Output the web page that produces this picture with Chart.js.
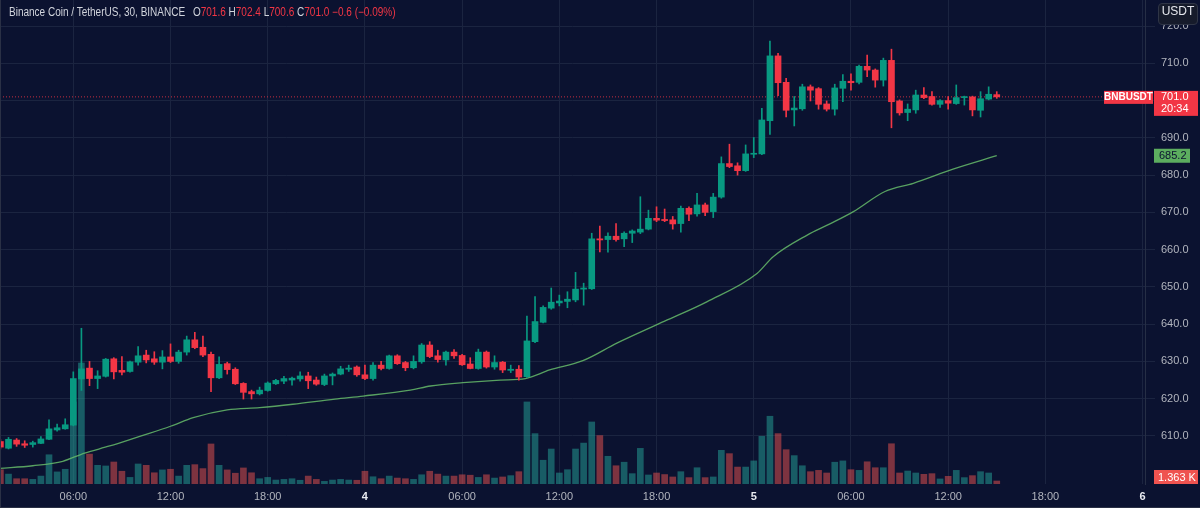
<!DOCTYPE html>
<html>
<head>
<meta charset="utf-8">
<script src="https://cdn.jsdelivr.net/npm/chart.js@4.4.1/dist/chart.umd.min.js"></script>
<style>
  html, body { margin: 0; padding: 0; background: #0b1230; }
  #wrap { position: relative; width: 1200px; height: 508px; }
  #header { position: absolute; left: 9px; top: 5px; font: 12px "Liberation Sans", sans-serif; color: #d1d4dc; white-space: nowrap;
            transform: scaleX(0.834); transform-origin: left top; }
  #header .v { color: #f23645; }
  #header .g { margin-left: 6px; }
  #unit { position: absolute; left: 1158px; top: 3px; width: 38px; height: 20px; line-height: 20px; text-align: center;
          background: #161b2b; border: 1px solid #2f3546; border-radius: 4px; color: #e6e8ee; font: 12px "Liberation Sans", sans-serif; }
</style>
</head>
<body>
<div id="wrap">
  <canvas id="chart" width="1200" height="508"></canvas>
  <div id="header">Binance Coin / TetherUS, 30, BINANCE <span class="g">O<span class="v">701.6</span></span> <span>H<span class="v">702.4</span></span> <span>L<span class="v">700.6</span></span> <span>C<span class="v">701.0</span></span> <span class="v">&minus;0.6 (&minus;0.09%)</span></div>
  <div id="unit">USDT</div>
</div>
<script>
// slot = half hours since Dec 3 00:00, first candle at 01:30
const firstSlot = 3;

const opens = [
  608.5, 606.7, 608.9, 607.9, 607.7, 608.0, 609.1, 611.6, 611.9, 612.9,
  625.3, 628.2, 625.4, 626.0, 630.7, 627.6, 627.3, 629.8, 631.7, 630.7,
  629.8, 631.2, 630.0, 632.5, 635.8, 633.8, 631.9, 625.6, 629.4, 627.9,
  624.1, 621.9, 621.3, 622.2, 624.0, 624.7, 625.0, 625.3, 626.1, 625.0,
  623.8, 626.1, 626.6, 627.9, 628.5, 626.4, 625.4, 629.0, 628.1, 631.5,
  629.7, 628.3, 629.9, 634.4, 631.5, 630.4, 632.5, 631.6, 629.3, 628.1,
  632.5, 628.5, 629.8, 627.6, 627.9, 625.9, 635.3, 640.5, 644.3, 645.7,
  646.1, 646.5, 649.4, 649.5, 662.9, 662.7, 663.6, 662.9, 664.4, 664.7,
  665.5, 668.4, 668.1, 668.0, 667.0, 671.1, 669.6, 672.0, 670.2, 674.1,
  683.1, 682.5, 681.2, 685.6, 685.7, 694.6, 712.0, 704.9, 697.5, 697.8,
  703.7, 703.2, 699.1, 697.7, 703.3, 705.2, 704.9, 709.2, 708.2, 705.5,
  710.8, 699.9, 696.8, 697.5, 701.5, 701.1, 699.0, 700.0, 699.2, 700.8,
  701.0, 697.4, 700.4, 701.6
];
const highs = [
  609.0, 609.6, 609.3, 608.7, 608.6, 609.8, 614.3, 613.2, 614.6, 627.2,
  638.9, 630.0, 627.5, 630.8, 631.0, 631.3, 630.1, 634.0, 633.0, 632.6,
  632.9, 634.7, 633.0, 636.8, 637.8, 636.8, 632.5, 631.2, 629.8, 628.3,
  624.3, 622.3, 623.1, 624.5, 625.2, 626.0, 625.8, 627.2, 627.1, 625.8,
  626.6, 626.9, 628.7, 629.0, 628.8, 629.0, 629.7, 630.0, 631.7, 631.8,
  630.0, 631.5, 634.8, 635.3, 633.0, 632.8, 633.2, 631.9, 631.0, 633.3,
  632.8, 631.5, 630.0, 629.0, 628.9, 642.2, 647.4, 644.9, 649.7, 647.8,
  648.7, 653.9, 651.0, 664.4, 666.3, 664.5, 667.0, 664.8, 665.3, 674.2,
  670.6, 671.5, 670.9, 668.9, 671.7, 671.5, 675.1, 672.5, 675.1, 684.9,
  688.3, 683.3, 688.1, 690.1, 697.9, 716.0, 712.7, 706.0, 701.1, 704.4,
  704.2, 703.5, 699.9, 704.4, 707.0, 707.2, 709.5, 712.2, 708.5, 711.4,
  713.8, 700.2, 699.1, 702.8, 703.5, 702.4, 700.3, 701.1, 704.2, 701.2,
  701.2, 702.4, 703.7, 702.4
];
const lows = [
  606.5, 606.5, 607.2, 606.9, 607.0, 607.9, 609.0, 611.3, 611.8, 612.7,
  622.2, 623.5, 622.7, 625.8, 625.3, 626.4, 627.1, 629.0, 629.6, 629.2,
  628.0, 629.7, 629.5, 631.7, 633.4, 631.3, 621.9, 625.4, 626.6, 623.8,
  619.9, 619.9, 621.0, 622.0, 623.8, 624.0, 623.6, 624.7, 622.7, 623.6,
  623.5, 623.7, 626.4, 627.3, 626.0, 625.1, 625.0, 627.7, 627.9, 629.2,
  627.5, 628.0, 629.5, 631.0, 629.8, 629.0, 630.8, 628.9, 628.0, 627.9,
  628.2, 627.9, 627.0, 627.0, 625.0, 625.7, 635.0, 640.3, 644.0, 644.9,
  644.4, 646.0, 645.1, 649.3, 659.4, 659.3, 662.3, 660.8, 661.9, 664.3,
  665.3, 667.5, 667.5, 665.5, 664.7, 667.8, 669.0, 669.1, 668.6, 673.8,
  682.0, 680.0, 681.0, 684.7, 685.5, 690.9, 701.3, 695.6, 693.2, 697.4,
  699.9, 697.7, 697.2, 696.1, 699.7, 702.8, 704.5, 706.4, 703.6, 703.9,
  692.7, 696.1, 694.6, 696.6, 700.5, 698.8, 698.2, 697.7, 699.0, 698.8,
  695.9, 695.6, 700.2, 700.6
];
const closes = [
  607.0, 609.1, 607.8, 607.5, 608.2, 609.2, 611.9, 612.2, 613.0, 625.4,
  628.0, 625.4, 626.1, 630.6, 627.2, 627.1, 629.9, 631.5, 630.4, 629.8,
  631.2, 630.0, 632.5, 635.8, 633.7, 631.7, 625.6, 629.2, 627.8, 624.0,
  621.7, 621.3, 622.3, 624.2, 624.9, 625.4, 625.5, 626.1, 624.8, 623.9,
  626.1, 626.6, 628.0, 628.2, 626.4, 625.4, 629.0, 628.1, 631.5, 629.4,
  628.3, 630.0, 634.4, 631.3, 630.5, 632.5, 631.5, 629.1, 628.1, 632.5,
  628.5, 629.7, 627.7, 627.9, 625.8, 635.5, 640.7, 644.5, 645.9, 646.2,
  646.7, 649.4, 649.7, 662.9, 662.6, 663.6, 662.7, 664.4, 665.0, 665.5,
  668.4, 667.9, 667.8, 666.9, 671.1, 669.5, 672.0, 670.0, 674.1, 683.1,
  682.3, 681.2, 685.7, 685.8, 694.8, 712.0, 704.8, 697.4, 698.0, 703.7,
  702.8, 699.0, 697.7, 703.4, 705.2, 704.8, 709.2, 708.2, 705.5, 710.8,
  699.7, 696.7, 697.7, 701.5, 700.8, 699.0, 700.0, 699.3, 700.8, 701.0,
  697.5, 700.5, 701.7, 701.0
];
// volume in thousands of BNB
const volumes = [
  6.5, 4.5, 2.4, 2.4, 2.1, 3.6, 13.3, 5.5, 6.7, 37.3,
  55.0, 13.6, 8.5, 8.2, 10.0, 5.8, 3.0, 9.1, 8.5, 5.1,
  6.4, 6.7, 3.6, 8.5, 8.8, 7.0, 18.2, 8.5, 6.4, 4.9,
  7.3, 5.1, 2.4, 3.0, 1.8, 2.1, 2.4, 1.7, 3.6, 2.1,
  1.2, 1.8, 2.1, 1.8, 1.7, 5.8, 3.3, 2.4, 3.6, 2.7,
  2.4, 2.1, 4.2, 5.8, 4.5, 3.6, 3.6, 4.2, 4.0, 3.0,
  4.2, 2.7, 3.2, 3.8, 5.6, 37.3, 22.9, 10.8, 15.9, 5.0,
  6.5, 15.9, 18.6, 28.2, 22.0, 12.6, 8.3, 9.9, 4.7, 16.2,
  4.1, 5.0, 4.3, 3.2, 5.6, 2.9, 7.4, 2.9, 3.2, 15.3,
  13.8, 7.7, 7.7, 10.5, 21.7, 30.8, 22.9, 15.6, 12.9, 8.3,
  5.6, 6.2, 5.0, 9.9, 10.5, 6.5, 6.2, 10.1, 7.4, 7.4,
  18.3, 5.0, 5.9, 5.0, 4.4, 4.7, 2.3, 3.5, 6.2, 2.9,
  3.8, 5.6, 5.0, 1.363
];
// moving average, read at a few slots
const maSlots  = [2.9, 7, 10.7, 13.4, 16.5, 20.2, 24, 26.8, 31, 35, 39.1, 44.3, 47.8, 53.6, 56.1, 60.1, 64.7, 67.8, 70.8, 74.9, 79.1, 85, 90.2, 96.4, 98.4, 102.6, 105.4, 108.3, 112.2, 115.7, 120.6, 126];
const maValues = [601.3, 602.0, 603.2, 605.4, 607.3, 609.9, 612.6, 614.9, 617.0, 617.6, 618.5, 619.9, 620.7, 622.3, 623.4, 624.3, 625.0, 625.4, 627.7, 630.2, 634.9, 640.8, 646.0, 653.6, 658.1, 663.9, 666.9, 670.2, 675.6, 677.8, 681.6, 685.2];

const tickSlots  = [12, 24, 36, 48, 60, 72, 84, 96, 108, 120, 132, 144];
const tickLabels = ['06:00', '12:00', '18:00', '4', '06:00', '12:00', '18:00', '5', '06:00', '12:00', '18:00', '6'];
const priceTicks = [610, 620, 630, 640, 650, 660, 670, 680, 690, 700, 710, 720];

const UP = '#089981', DOWN = '#f23645';
const UP_VOL = 'rgba(38,166,154,0.5)', DOWN_VOL = 'rgba(239,83,80,0.5)';
const GRID = '#1b2440';

const slots = opens.map((_, i) => firstSlot + i);
const isUp = opens.map((o, i) => closes[i] >= o);
const candleColors = isUp.map(u => u ? UP : DOWN);
const lastClose = closes[closes.length - 1];
const xMin = 2.95, xMax = 144.3;

const labelsPlugin = {
  id: 'labels',
  beforeDraw(chart) {
    const { ctx } = chart;
    ctx.save();
    ctx.fillStyle = '#0b1230';
    ctx.fillRect(0, 0, chart.width, chart.height);
    ctx.restore();
  },
  afterDraw(chart) {
    const { ctx, scales } = chart;
    ctx.save();
    // frame
    ctx.strokeStyle = '#2a3045';
    ctx.lineWidth = 1;
    ctx.beginPath();
    ctx.moveTo(0.5, 0); ctx.lineTo(0.5, 508);
    ctx.moveTo(0, 507.5); ctx.lineTo(1200, 507.5);
    ctx.stroke();

    ctx.textBaseline = 'middle';
    // last price tag
    const py = scales.y.getPixelForValue(lastClose);
    ctx.fillStyle = DOWN;
    ctx.fillRect(1104, py - 6, 49, 13);
    ctx.fillRect(1154, py - 6, 44, 25);
    ctx.fillStyle = '#ffffff';
    ctx.font = 'bold 10px "Liberation Sans", sans-serif';
    ctx.textAlign = 'center';
    ctx.fillText('BNBUSDT', 1128.5, py + 0.5);
    ctx.font = '11px "Liberation Sans", sans-serif';
    ctx.textAlign = 'left';
    ctx.fillText(lastClose.toFixed(1), 1161, py + 0.5);
    ctx.fillText('20:34', 1161, py + 12.5);

    // moving average tag
    const maLast = maValues[maValues.length - 1];
    const my = scales.y.getPixelForValue(maLast);
    ctx.fillStyle = '#5cad5f';
    ctx.fillRect(1154, my - 7, 36, 14);
    ctx.fillStyle = '#0b1230';
    ctx.fillText(maLast.toFixed(1), 1159, my + 0.5);

    // volume tag
    const vLast = volumes[volumes.length - 1];
    const vy = Math.min(scales.vol.getPixelForValue(vLast), chart.chartArea.bottom - 7);
    ctx.fillStyle = '#ef5350';
    ctx.fillRect(1154, vy - 7, 44, 14);
    ctx.fillStyle = '#ffffff';
    ctx.fillText(vLast.toFixed(3) + ' K', 1158, vy + 0.5);
    ctx.restore();
  }
};

new Chart(document.getElementById('chart'), {
  data: {
    datasets: [
      {
        type: 'bar',
        label: 'Bodies',
        data: slots.map((s, i) => ({ x: s, y: [opens[i], closes[i]] })),
        backgroundColor: candleColors,
        barThickness: 6,
        minBarLength: 1,
        grouped: false,
        yAxisID: 'y',
        order: 0
      },
      {
        type: 'bar',
        label: 'Wicks',
        data: slots.map((s, i) => ({ x: s, y: [lows[i], highs[i]] })),
        backgroundColor: candleColors,
        barThickness: 1,
        grouped: false,
        yAxisID: 'y',
        order: 1
      },
      {
        type: 'line',
        label: 'MA',
        data: maSlots.map((s, i) => ({ x: s, y: maValues[i] })),
        borderColor: 'rgba(102,187,106,0.85)',
        borderWidth: 1.3,
        pointRadius: 0,
        cubicInterpolationMode: 'monotone',
        yAxisID: 'y',
        order: 2
      },
      {
        type: 'line',
        label: 'Last',
        data: [{ x: xMin, y: lastClose }, { x: xMax, y: lastClose }],
        borderColor: 'rgba(242,54,69,0.8)',
        borderWidth: 1,
        borderDash: [1, 2],
        pointRadius: 0,
        yAxisID: 'y',
        order: 3
      },
      {
        type: 'bar',
        label: 'Volume',
        data: slots.map((s, i) => ({ x: s, y: volumes[i] })),
        backgroundColor: isUp.map(u => u ? UP_VOL : DOWN_VOL),
        barThickness: 6,
        grouped: false,
        yAxisID: 'vol',
        order: 4
      }
    ]
  },
  options: {
    responsive: false,
    animation: false,
    layout: { padding: 0 },
    plugins: { legend: { display: false }, tooltip: { enabled: false } },
    scales: {
      x: {
        type: 'linear',
        min: xMin,
        max: xMax,
        offset: false,
        afterBuildTicks: s => { s.ticks = tickSlots.map(v => ({ value: v })); },
        afterFit: s => { s.height = 24; s.paddingLeft = 0; s.paddingRight = 0; },
        grid: { color: GRID, drawTicks: false, offset: false },
        border: { display: false },
        ticks: {
          autoSkip: false,
          maxRotation: 0,
          padding: 6,
          callback: (v, i) => tickLabels[i],
          color: c => (tickLabels[c.index] || '').length < 3 ? '#e8eaf0' : '#b2b5be',
          font: c => ({ family: '"Liberation Sans", sans-serif', size: 11, weight: (tickLabels[c.index] || '').length < 3 ? 'bold' : 'normal' })
        }
      },
      y: {
        type: 'linear',
        position: 'right',
        min: 597.1,
        max: 727.0,
        afterBuildTicks: s => { s.ticks = priceTicks.map(v => ({ value: v })); },
        afterFit: s => { s.width = 55; s.paddingTop = 0; s.paddingBottom = 0; },
        grid: { color: GRID, tickLength: 10 },
        border: { display: true, color: '#262e45' },
        ticks: {
          padding: 6,
          color: '#b2b5be',
          font: { family: '"Liberation Sans", sans-serif', size: 11 },
          callback: v => v.toFixed(1)
        }
      },
      vol: {
        type: 'linear',
        display: false,
        min: 0,
        max: 220,
        afterFit: s => { s.paddingTop = 0; s.paddingBottom = 0; }
      }
    }
  },
  plugins: [labelsPlugin]
});
</script>
</body>
</html>
